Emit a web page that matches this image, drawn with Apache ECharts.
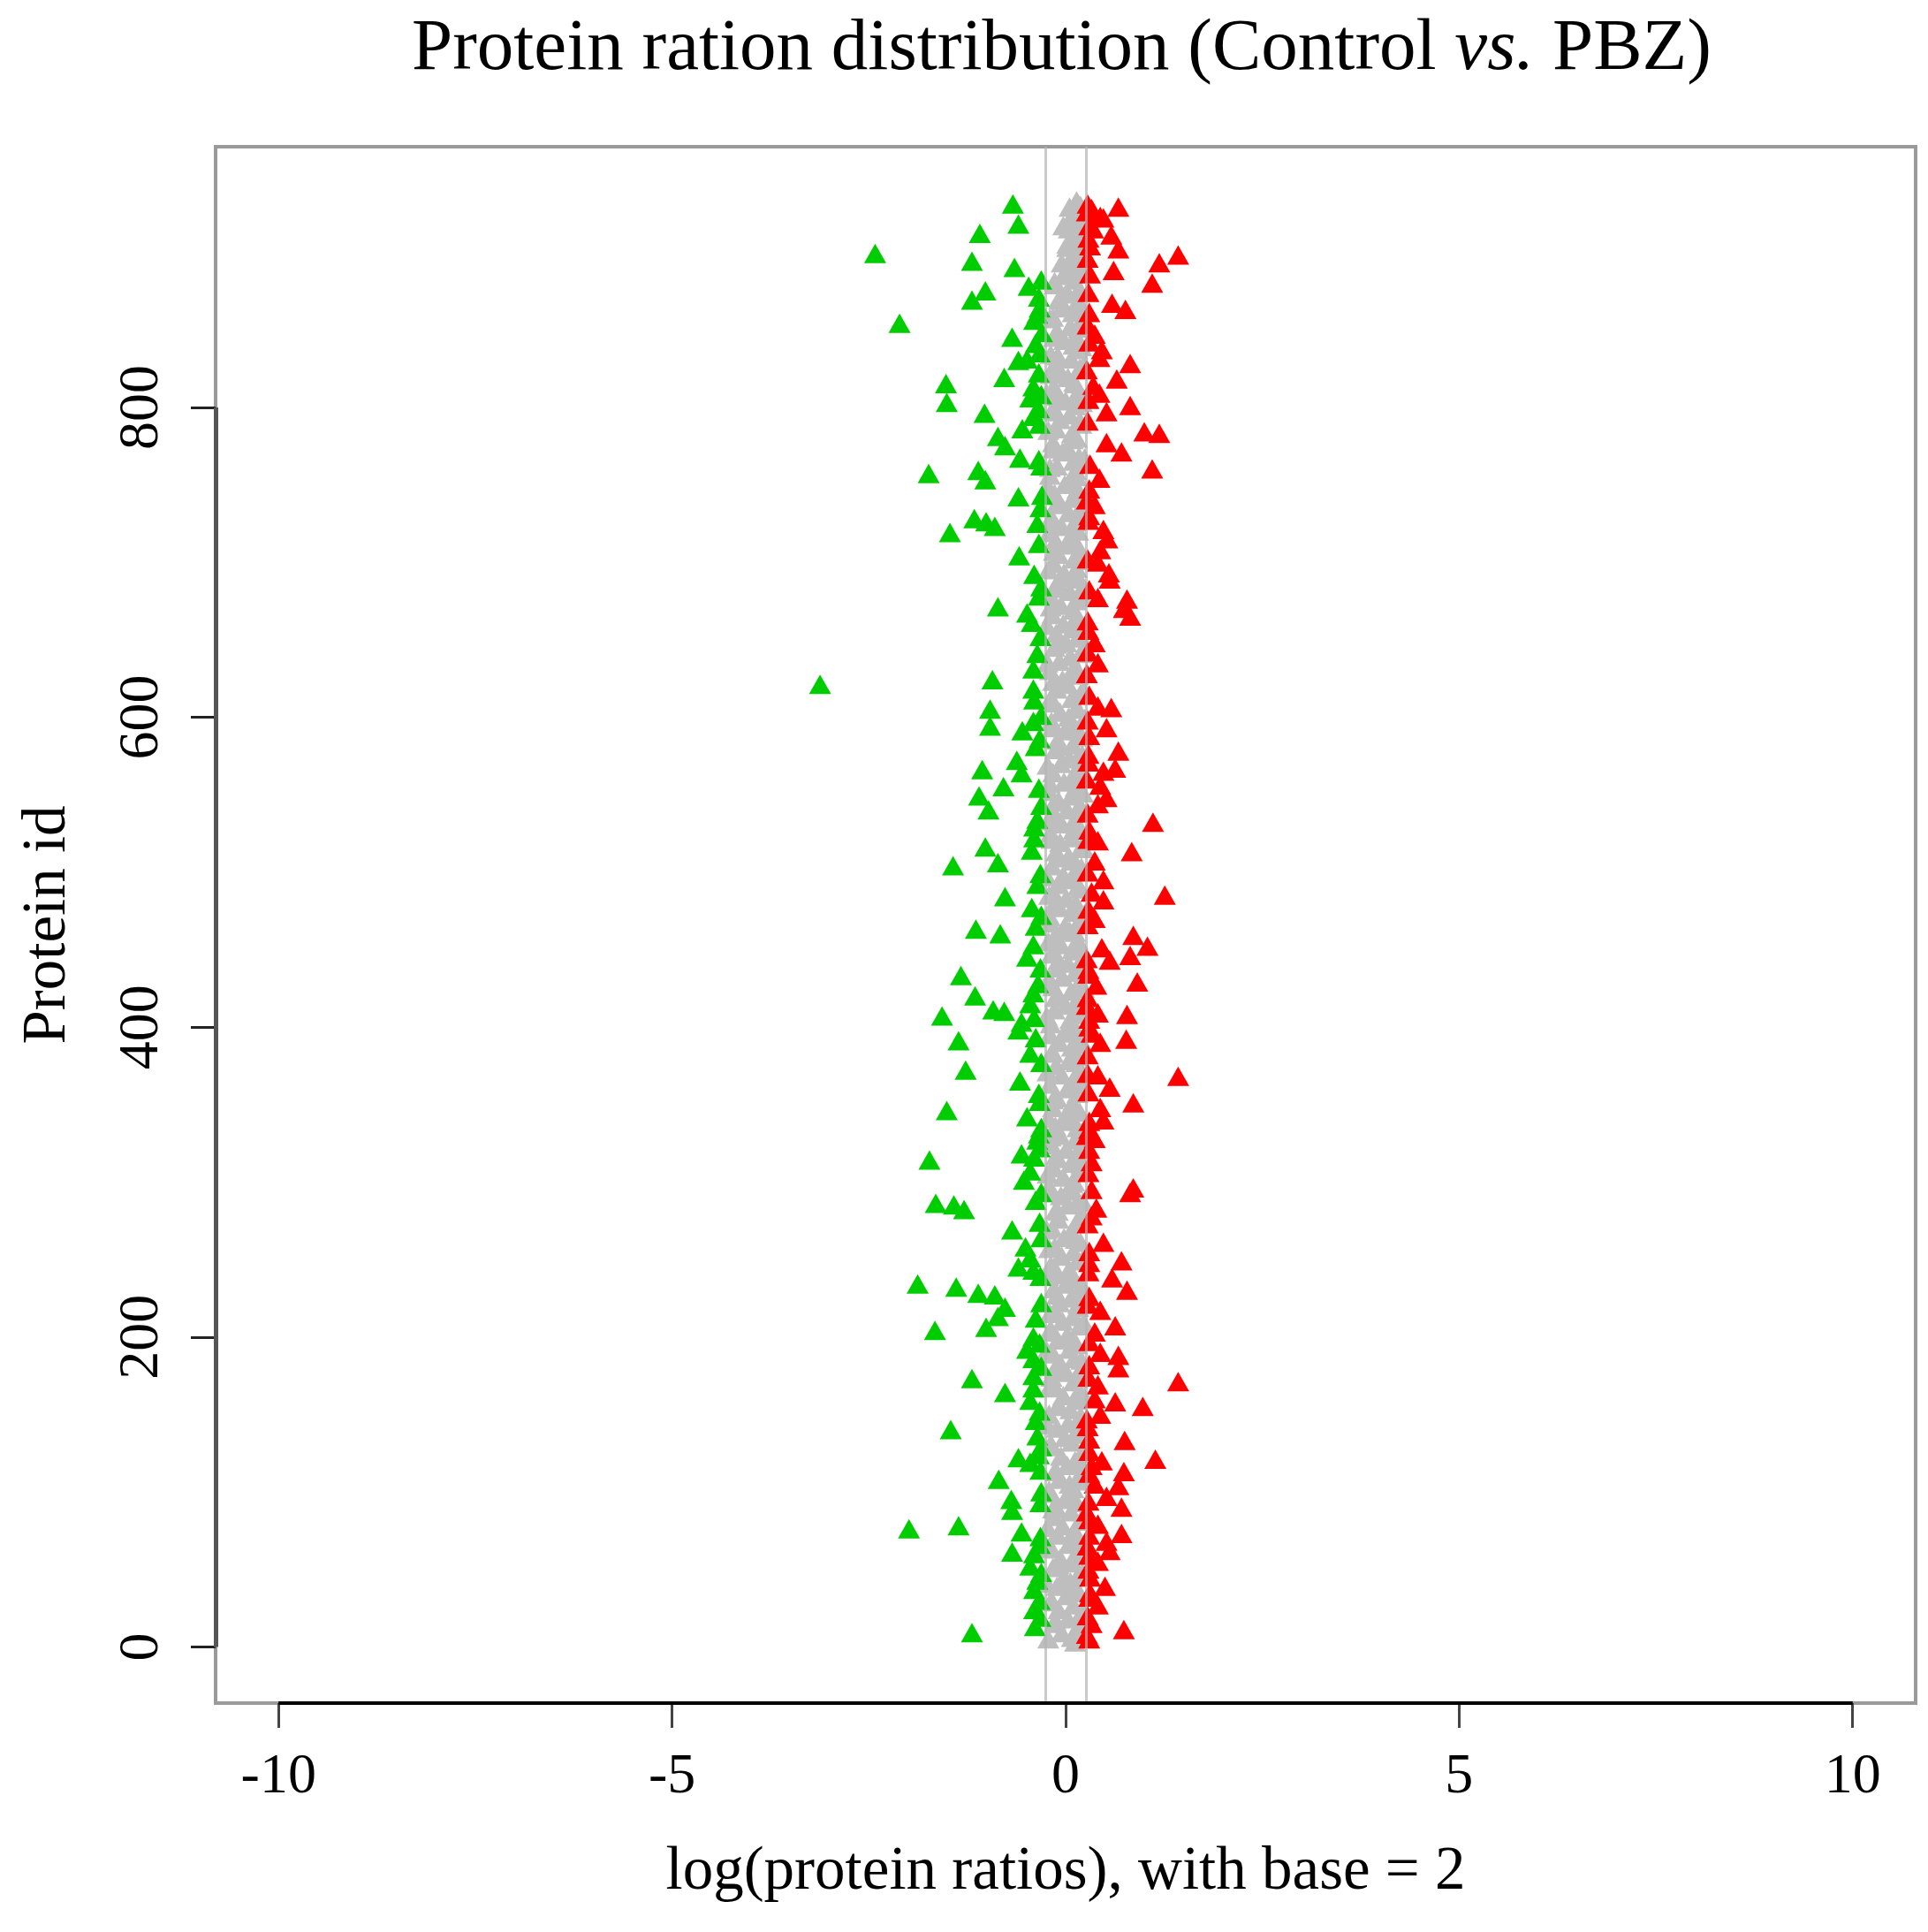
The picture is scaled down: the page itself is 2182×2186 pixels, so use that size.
<!DOCTYPE html>
<html>
<head>
<meta charset="utf-8">
<script src="https://cdn.jsdelivr.net/npm/echarts@6/dist/echarts.min.js"></script>
<style>
html,body{margin:0;padding:0;background:#fff;}
#chart{width:2182px;height:2186px;}
</style>
</head>
<body>
<div id="chart"></div>
<script>
// ---- data ----
const xTicks = [-10, -5, 0, 5, 10];
const yTicks = [0, 200, 400, 600, 800];
const thresholds = [-0.263, 0.263];

const greenIds = [929,916,910,897,892,888,873,867,876,869,854,862,852,843,839,829,828,820,817,813,801,804,811,797,794,792,779,773,784,765,764,755,757,751,740,741,726,724,721,717,723,702,690,
676,669,659,665,639,629,619,622,609,616,603,592,589,595,579,570,564,562,553,552,547,538,527,532,514,512,520,502,504,490,482,475,461,458,463,451,443,
431,418,420,413,405,409,408,401,404,396,389,391,381,370,363,355,344,340,329,325,312,316,314,305,299,284,283,280,286,267,256,249,243,241,232,230,226,225,217,211,202,204,210,198,190,
171,173,184,162,157,165,144,138,134,120,117,122,106,91,86,93,74,76,72,69,59,58,50,41,35,22,7,11,
880,858,846,833,806,787,760,733,710,682,650,599,584,541,497,470,436,426,375,350,333,320,291,272,262,237,220,194,179,150,127,112,98,64,46,28,17];
const greenRatios = [-0.67,-0.60,-1.09,-2.42,-1.19,-0.65,-1.02,-1.19,-0.47,-0.34,-0.40,-0.33,-2.11,-0.68,-0.38,-0.49,-0.60,-0.34,-0.78,-1.52,-1.51,-0.45,-0.41,-0.34,-1.03,-0.41,-0.86,-0.77,-0.55,-0.58,-0.34,-1.74,-1.11,-1.02,-0.60,-0.30,-1.16,-1.01,-0.90,-1.47,-0.36,-0.59,-0.40,
-0.34,-0.86,-0.43,-0.49,-0.36,-0.41,-3.12,-0.93,-0.40,-0.41,-0.96,-0.96,-0.55,-0.41,-0.38,-0.62,-1.06,-0.56,-0.79,-0.34,-1.10,-0.98,-0.40,-0.36,-1.02,-0.43,-0.40,-1.43,-0.86,-0.36,-0.77,-0.43,-1.14,-0.83,-0.38,-0.41,-0.49,
-1.33,-1.15,-0.41,-0.45,-1.57,-0.92,-0.78,-0.56,-0.40,-0.60,-1.36,-0.38,-0.45,-1.27,-0.58,-0.34,-1.51,-0.49,-0.34,-0.36,-1.73,-0.56,-0.40,-0.45,-0.53,-1.65,-1.42,-1.29,-0.38,-0.68,-0.51,-0.45,-0.60,-0.41,-1.88,-1.39,-1.11,-0.90,-0.77,-0.86,-1.66,-1.01,-0.38,-0.41,-0.49,
-1.19,-0.41,-0.41,-0.77,-0.45,-0.41,-0.38,-1.46,-0.36,-0.60,-0.45,-0.34,-0.85,-0.32,-0.68,-0.69,-1.99,-1.36,-0.56,-0.32,-0.68,-0.40,-0.45,-0.36,-0.40,-0.40,-1.19,-0.39,
-0.31,-0.36,-0.30,-0.33,-0.31,-0.33,-0.31,-0.32,-0.34,-0.31,-0.32,-0.31,-0.33,-0.31,-0.32,-0.31,-0.32,-0.35,-0.31,-0.33,-0.31,-0.33,-0.31,-0.33,-0.31,-0.32,-0.31,-0.33,-0.31,-0.33,-0.31,-0.32,-0.31,-0.33,-0.31,-0.33,-0.32];

const redIds = [929,927,926,920,921,915,909,900,907,902,896,891,886,884,878,865,861,859,845,835,826,830,816,807,812,799,795,782,781,775,769,758,761,752,728,735,719,713,706,698,691,
687,675,674,663,668,654,646,633,640,605,604,586,591,576,574,563,565,554,546,542,530,519,518,511,505,493,483,480,485,468,457,450,449,444,442,441,
427,425,432,417,406,407,403,390,388,394,366,368,367,359,349,346,338,337,326,328,311,319,291,294,293,281,276,259,247,246,236,228,224,215,205,201,186,188,
178,169,167,180,156,153,158,148,145,132,131,118,119,111,110,102,103,95,88,85,77,71,66,70,60,57,53,37,43,30,25,13,9,6,
924,913,894,872,851,840,822,803,789,745,738,725,700,680,660,626,612,596,569,558,536,525,498,474,464,435,412,398,380,356,332,304,271,253,240,219,195,172,140,124,115,92,80,63,48,33,18,3];
const redRatios = [0.28,0.67,0.33,0.48,0.44,0.30,0.58,0.67,0.29,0.31,1.43,1.19,0.61,0.31,1.10,0.59,0.76,0.30,0.37,0.46,0.82,0.43,0.65,0.43,0.35,0.82,0.52,1.00,1.19,0.52,0.71,1.10,0.31,0.43,0.30,0.37,0.48,0.53,0.44,0.41,0.55,
0.56,0.41,0.78,0.82,0.74,0.29,0.37,0.41,0.28,0.41,0.58,0.30,0.52,0.67,0.29,0.48,0.63,0.44,0.52,0.41,1.11,0.29,0.41,0.84,0.37,0.48,1.26,0.48,0.33,0.37,0.86,1.04,0.46,0.82,0.27,0.56,
0.91,0.39,0.29,0.28,0.78,0.41,0.30,0.77,0.44,0.33,1.43,0.28,0.41,0.56,0.86,0.44,0.48,0.30,0.37,0.27,0.33,0.30,0.82,0.86,0.33,0.39,0.33,0.48,0.71,0.30,0.59,0.78,0.30,0.44,0.63,0.37,0.67,0.44,
0.67,1.43,0.41,0.30,0.63,0.98,0.37,0.44,0.27,0.30,0.75,0.46,1.14,0.74,0.30,0.67,0.37,0.52,0.71,0.27,0.41,0.71,0.52,0.30,0.56,0.30,0.41,0.50,0.31,0.30,0.41,0.33,0.74,0.27,
0.27,0.35,0.28,0.29,0.28,0.30,0.27,0.29,0.28,0.30,0.27,0.29,0.28,0.30,0.28,0.27,0.30,0.28,0.29,0.27,0.28,0.30,0.28,0.29,0.28,0.29,0.27,0.30,0.28,0.29,0.30,0.29,0.28,0.30,0.29,0.28,0.30,0.29,0.28,0.30,0.33,0.29,0.30,0.28,0.29,0.31,0.28,0.30];

const grayIds = [1,4,7,10,13,16,19,22,25,28,31,34,37,40,43,46,49,52,55,58,
61,64,67,70,73,76,79,82,85,88,91,94,97,100,103,106,109,112,115,118,
121,124,127,130,133,136,139,142,145,148,151,154,157,160,163,166,169,172,175,178,
181,184,187,190,193,196,199,202,205,208,211,214,217,220,223,226,229,232,235,238,
241,244,247,250,253,256,259,262,265,268,271,274,277,280,283,286,289,292,295,298,
301,304,307,310,313,316,319,322,325,328,331,334,337,340,343,346,349,352,355,358,
361,364,367,370,373,376,379,382,385,388,391,394,397,400,403,406,409,412,415,418,
421,424,427,430,433,436,439,442,445,448,451,454,457,460,463,466,469,472,475,478,
481,484,487,490,493,496,499,502,505,508,511,514,517,520,523,526,529,532,535,538,
541,544,547,550,553,556,559,562,565,568,571,574,577,580,583,586,589,592,595,598,
601,604,607,610,613,616,619,622,625,628,631,634,637,640,643,646,649,652,655,658,
661,664,667,670,673,676,679,682,685,688,691,694,697,700,703,706,709,712,715,718,
721,724,727,730,733,736,739,742,745,748,751,754,757,760,763,766,769,772,775,778,
781,784,787,790,793,796,799,802,805,808,811,814,817,820,823,826,829,832,835,838,
841,844,847,850,853,856,859,862,865,868,871,874,877,880,883,886,889,892,895,898,
901,904,907,910,913,916,919,922,925,928,931,
3,9,15,21,27,33,39,45,51,57,63,69,75,81,87,93,99,105,111,117,
123,129,135,141,147,153,159,165,171,177,183,189,195,201,207,213,219,225,231,237,
243,249,255,261,267,273,279,285,291,297,303,309,315,321,327,333,339,345,351,357,
363,369,375,381,387,393,399,405,411,417,423,429,435,441,447,453,459,465,471,477,
483,489,495,501,507,513,519,525,531,537,543,549,555,561,567,573,579,585,591,597,
603,609,615,621,627,633,639,645,651,657,663,669,675,681,687,693,699,705,711,717,
723,729,735,741,747,753,759,765,771,777,783,789,795,801,807,813,819,825,831,837,
843,849,855,861,867,873,879,885,891,897,903,909,915,921,927];
const grayRatios = [0.12,0.08,-0.05,0.15,-0.14,0.03,0.19,-0.09,0.1,-0.18,0.01,0.16,-0.11,0.06,-0.02,0.21,-0.16,0.09,-0.07,0.13,
-0.2,0.04,0.17,-0.1,0.11,-0.04,0.2,-0.15,0.07,-0.12,0.14,0.0,-0.19,0.1,0.05,-0.08,0.18,-0.13,0.02,0.12,
-0.06,0.22,-0.17,0.08,-0.01,0.15,-0.11,0.03,0.19,-0.21,0.06,-0.09,0.13,-0.03,0.17,-0.14,0.1,-0.18,0.01,0.2,
-0.07,0.11,-0.16,0.05,0.14,-0.1,0.02,-0.2,0.18,-0.04,0.09,-0.13,0.16,-0.08,0.07,0.21,-0.15,0.0,0.12,-0.11,
0.04,-0.19,0.15,-0.05,0.1,-0.14,0.19,-0.02,0.06,-0.17,0.13,-0.09,0.2,-0.12,0.03,0.16,-0.06,0.08,-0.21,0.11,
-0.03,0.17,-0.15,0.07,-0.1,0.14,0.01,-0.18,0.12,-0.07,0.22,-0.13,0.05,-0.01,0.18,-0.16,0.09,-0.11,0.15,0.02,
-0.2,0.1,-0.05,0.19,-0.12,0.04,0.13,-0.17,0.08,-0.08,0.16,-0.02,0.11,-0.19,0.06,0.2,-0.14,0.0,0.14,-0.09,
0.07,-0.16,0.18,-0.04,0.12,-0.11,0.03,0.21,-0.18,0.09,-0.06,0.15,-0.13,0.05,-0.01,0.17,-0.2,0.1,-0.08,0.13,
0.01,-0.15,0.19,-0.1,0.06,-0.03,0.14,-0.17,0.11,0.04,-0.12,0.2,-0.07,0.08,-0.19,0.16,-0.05,0.12,-0.14,0.02,
0.18,-0.09,0.07,-0.21,0.13,-0.02,0.1,-0.16,0.15,-0.06,0.05,0.21,-0.13,0.09,-0.1,0.17,-0.01,0.11,-0.18,0.04,
-0.07,0.14,-0.15,0.08,0.19,-0.11,0.03,-0.04,0.16,-0.2,0.12,-0.08,0.06,0.2,-0.14,0.01,0.15,-0.12,0.09,-0.03,
0.17,-0.17,0.1,-0.06,0.13,-0.19,0.05,0.22,-0.1,0.08,-0.02,0.14,-0.15,0.11,-0.09,0.18,0.0,-0.13,0.07,0.16,
-0.05,0.12,-0.18,0.04,0.19,-0.08,0.09,-0.14,0.15,-0.01,0.06,-0.2,0.13,-0.11,0.1,0.17,-0.04,0.02,-0.16,0.14,
0.08,-0.12,0.2,-0.07,0.05,-0.17,0.12,0.0,-0.1,0.16,-0.15,0.11,0.03,-0.06,0.18,-0.13,0.07,-0.19,0.15,0.1,
-0.02,0.13,-0.11,0.06,0.19,-0.16,0.09,-0.05,0.14,-0.08,0.03,0.17,-0.14,0.1,-0.03,0.12,0.05,0.16,0.08,0.13,
0.02,0.15,0.07,0.18,0.04,0.11,0.16,0.09,0.13,0.19,0.14,
-0.22,0.2,-0.13,0.23,-0.18,0.09,-0.24,0.17,-0.09,0.24,-0.2,0.14,-0.23,0.21,-0.16,0.06,-0.21,0.23,-0.12,0.18,
0.22,-0.19,0.12,-0.23,0.19,-0.08,0.24,-0.21,0.15,-0.14,0.2,-0.24,0.1,-0.17,0.23,-0.2,0.16,-0.11,0.21,-0.22,
-0.15,0.23,-0.21,0.13,-0.24,0.19,-0.1,0.22,-0.18,0.08,-0.23,0.2,-0.12,0.24,-0.19,0.15,-0.22,0.11,-0.16,0.21,
0.19,-0.23,0.14,-0.17,0.22,-0.2,0.09,-0.24,0.18,-0.13,0.23,-0.21,0.16,-0.09,0.2,-0.22,0.12,-0.19,0.24,-0.15,
-0.21,0.16,-0.24,0.2,-0.11,0.23,-0.18,0.1,-0.22,0.19,-0.14,0.22,-0.2,0.13,-0.23,0.17,-0.09,0.21,-0.17,0.24,
0.15,-0.2,0.23,-0.16,0.1,-0.23,0.2,-0.12,0.18,-0.24,0.14,-0.19,0.22,-0.1,0.17,-0.22,0.24,-0.15,0.11,-0.21,
-0.18,0.22,-0.12,0.19,-0.23,0.14,-0.2,0.24,-0.16,0.09,-0.22,0.18,-0.13,0.21,-0.24,0.12,-0.19,0.23,-0.1,0.2,
-0.15,0.17,-0.2,0.22,-0.08,0.19,-0.14,0.21,-0.05,0.18,0.02,0.2,-0.03,0.16,0.05];

// ---- chart ----
const X_MIN = -10.8, X_MAX = 10.8, Y_MIN = -36.2, Y_MAX = 968.2;
const FONT = 'Liberation Serif';

function pairs(ids, vals) { return ids.map((id, i) => [vals[i], id]); }

const tri = {
  type: 'scatter',
  symbol: 'triangle',
  symbolSize: [25, 22],
  symbolOffset: [0, -4],
  silent: true,
  animation: false
};

const chart = echarts.init(document.getElementById('chart'), null, { renderer: 'canvas' });
chart.setOption({
  animation: false,
  backgroundColor: '#ffffff',
  title: {
    text: 'Protein ration distribution (Control {it|vs.} PBZ)',
    left: 466,
    top: 15,
    padding: 0,
    textStyle: {
      fontFamily: FONT, fontSize: 83, fontWeight: 'normal', color: '#000',
      rich: { it: { fontFamily: FONT, fontSize: 83, fontStyle: 'italic', color: '#000' } }
    }
  },
  grid: {
    left: 244, right: 14, top: 166, bottom: 259,
    show: true, borderColor: '#9a9a9a', borderWidth: 4, backgroundColor: 'transparent'
  },
  xAxis: {
    type: 'value', min: X_MIN, max: X_MAX,
    name: 'log(protein ratios), with base = 2',
    nameLocation: 'middle', nameGap: 157,
    nameTextStyle: { fontFamily: FONT, fontSize: 69, color: '#000' },
    axisLine: { show: false, onZero: false },
    splitLine: { show: false },
    axisTick: { show: true, length: 28, customValues: xTicks, lineStyle: { color: '#444', width: 3 } },
    axisLabel: { show: true, customValues: xTicks, margin: 52, fontFamily: FONT, fontSize: 64, color: '#000' }
  },
  yAxis: {
    type: 'value', min: Y_MIN, max: Y_MAX,
    name: 'Protein id',
    nameLocation: 'middle', nameGap: 155, nameRotate: 90,
    nameTextStyle: { fontFamily: FONT, fontSize: 69, color: '#000' },
    axisLine: { show: false, onZero: false },
    splitLine: { show: false },
    axisTick: { show: true, length: 28, customValues: yTicks, lineStyle: { color: '#222', width: 3 } },
    axisLabel: { show: true, customValues: yTicks, rotate: 90, margin: 51, fontFamily: FONT, fontSize: 64, color: '#000' }
  },
  series: [
    Object.assign({}, tri, { name: 'unchanged', data: pairs(grayIds, grayRatios), itemStyle: { color: '#bebebe', opacity: 1 }, z: 2 }),
    Object.assign({}, tri, { name: 'down', data: pairs(greenIds, greenRatios), itemStyle: { color: '#00cd00', opacity: 1 }, z: 3 }),
    Object.assign({}, tri, { name: 'up', data: pairs(redIds, redRatios), itemStyle: { color: '#ff0000', opacity: 1 }, z: 4 }),
    {
      type: 'scatter', data: [], z: 6, silent: true,
      markLine: {
        silent: true, symbol: 'none', animation: false, label: { show: false },
        data: [
          { xAxis: thresholds[0], lineStyle: { color: 'rgba(180,180,180,0.7)', width: 3, type: 'solid' } },
          { xAxis: thresholds[1], lineStyle: { color: 'rgba(180,180,180,0.7)', width: 3, type: 'solid' } },
          [ { coord: [X_MIN, yTicks[0]], lineStyle: { color: '#555', width: 5, type: 'solid' } }, { coord: [X_MIN, yTicks[yTicks.length - 1]] } ],
          [ { coord: [xTicks[0], Y_MIN], lineStyle: { color: '#000', width: 4, type: 'solid' } }, { coord: [xTicks[xTicks.length - 1], Y_MIN] } ]
        ]
      }
    }
  ]
});
</script>
</body>
</html>
